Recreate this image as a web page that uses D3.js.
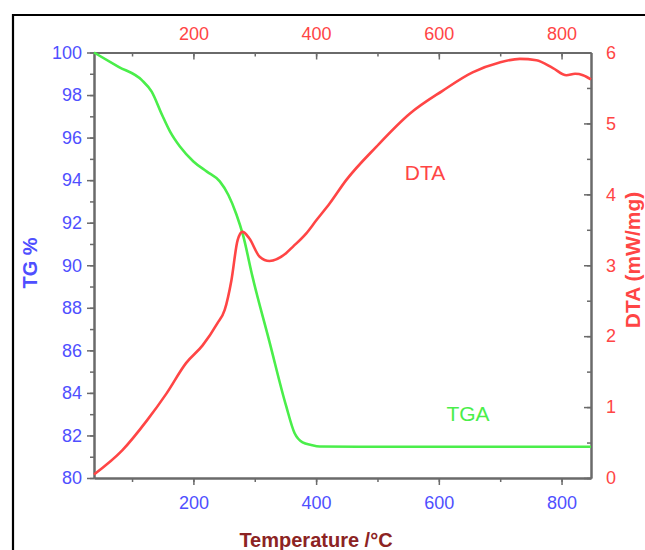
<!DOCTYPE html>
<html>
<head>
<meta charset="utf-8">
<script src="https://cdn.jsdelivr.net/npm/d3@7"></script>
<style>
  body { margin: 0; background: #fff; }
  svg { display: block; font-family: "Liberation Sans", Arial, sans-serif; }
</style>
</head>
<body>
<script>
// TGA curve, temperature (°C) and mass (%)
var tgaTemp = [38, 78, 116, 132, 149, 162, 178, 200, 222, 243, 257, 270, 281, 296, 324, 351, 365, 378, 392, 406, 471, 600, 848];
var tgaMass = [100, 99.33, 98.7, 98.16, 97.06, 96.28, 95.58, 94.88, 94.4, 93.94, 93.3, 92.4, 91.4, 89.5, 86.4, 83.4, 82.1, 81.67, 81.55, 81.48, 81.47, 81.47, 81.47];

// DTA curve, temperature (°C) and signal (mW/mg)
var dtaTemp = [38, 84, 125, 156, 188, 215, 239, 251, 262, 272, 280, 291, 308, 324, 351, 362, 384, 400, 422, 449, 498, 553, 606, 655, 699, 732, 759, 786, 808, 822, 835, 848];
var dtaVal = [0.05, 0.39, 0.82, 1.19, 1.62, 1.87, 2.18, 2.37, 2.79, 3.35, 3.47, 3.38, 3.12, 3.06, 3.17, 3.26, 3.45, 3.63, 3.87, 4.2, 4.67, 5.14, 5.46, 5.72, 5.86, 5.91, 5.89, 5.78, 5.68, 5.70, 5.68, 5.62];

// ticks
var tempTicks = [200, 400, 600, 800];
var tempMinor = [100, 200, 300, 400, 500, 600, 700, 800];
var tgTicks = [80, 82, 84, 86, 88, 90, 92, 94, 96, 98, 100];
var tgMinor = d3.range(80, 101, 1);
var dtaTicks = [0, 1, 2, 3, 4, 5, 6];
var dtaMinor = d3.range(0, 6.01, 0.5);

var W = 645, H = 550;
var plot = {left: 94, right: 591, top: 52.5, bottom: 478};

var blue = "#4f4fff", red = "#ff4545", green = "#4aee4a", axisGrey = "#6a6a6a";

var svg = d3.select("body").append("svg")
    .attr("width", W)
    .attr("height", H);

// outer frame
svg.append("path")
    .attr("d", "M13,551 L13,15 L646,15")
    .attr("fill", "none")
    .attr("stroke", "#000")
    .attr("stroke-width", 2.2);

var x = d3.scaleLinear().domain([38, 848]).range([plot.left, plot.right]);
var yTG = d3.scaleLinear().domain([80, 100]).range([plot.bottom, plot.top]);
var yDTA = d3.scaleLinear().domain([0, 6]).range([plot.bottom, plot.top]);

function styleAxis(g, color) {
    g.selectAll("path.domain").attr("stroke", axisGrey).attr("stroke-width", 2);
    g.selectAll(".tick line").attr("stroke", axisGrey).attr("stroke-width", 1.5);
    g.selectAll(".tick text").attr("fill", color).style("font-size", "18px");
}

// minor ticks (no labels)
var minorAxes = [
    [d3.axisBottom(x).tickValues(tempMinor).tickSize(4), "translate(0," + plot.bottom + ")"],
    [d3.axisTop(x).tickValues(tempMinor).tickSize(-4), "translate(0," + plot.top + ")"],
    [d3.axisLeft(yTG).tickValues(tgMinor).tickSize(4), "translate(" + plot.left + ",0)"],
    [d3.axisRight(yDTA).tickValues(dtaMinor).tickSize(-4), "translate(" + plot.right + ",0)"]
];
minorAxes.forEach(function(a) {
    var g = svg.append("g").attr("transform", a[1])
        .call(a[0].tickSizeOuter(0).tickFormat(""));
    styleAxis(g, "none");
});

// bottom axis
var gx = svg.append("g")
    .attr("transform", "translate(0," + plot.bottom + ")")
    .call(d3.axisBottom(x).tickValues(tempTicks).tickSize(7).tickSizeOuter(0).tickPadding(11));
styleAxis(gx, blue);

// top axis
var gxt = svg.append("g")
    .attr("transform", "translate(0," + plot.top + ")")
    .call(d3.axisTop(x).tickValues(tempTicks).tickSize(-7).tickSizeOuter(0).tickPadding(13));
styleAxis(gxt, red);

// left axis
var gy = svg.append("g")
    .attr("transform", "translate(" + plot.left + ",0)")
    .call(d3.axisLeft(yTG).tickValues(tgTicks).tickSize(7).tickSizeOuter(0).tickPadding(5));
styleAxis(gy, blue);

// right axis
var gyr = svg.append("g")
    .attr("transform", "translate(" + plot.right + ",0)")
    .call(d3.axisRight(yDTA).tickValues(dtaTicks).tickFormat(d3.format("d"))
        .tickSize(-7).tickSizeOuter(0).tickPadding(15));
styleAxis(gyr, red);

// curves
var tgaData = tgaTemp.map(function(t, i) { return {t: t, v: tgaMass[i]}; });
var dtaData = dtaTemp.map(function(t, i) { return {t: t, v: dtaVal[i]}; });

var tgaLine = d3.line()
    .curve(d3.curveMonotoneX)
    .x(function(d) { return x(d.t); })
    .y(function(d) { return yTG(d.v); });

var dtaLine = d3.line()
    .curve(d3.curveMonotoneX)
    .x(function(d) { return x(d.t); })
    .y(function(d) { return yDTA(d.v); });

svg.append("path")
    .datum(tgaData)
    .attr("fill", "none")
    .attr("stroke", green)
    .attr("stroke-width", 2.6)
    .attr("d", tgaLine);

svg.append("path")
    .datum(dtaData)
    .attr("fill", "none")
    .attr("stroke", red)
    .attr("stroke-width", 2.6)
    .attr("d", dtaLine);

// curve labels
svg.append("text")
    .attr("x", 425).attr("y", 180)
    .attr("text-anchor", "middle")
    .attr("fill", red)
    .style("font-size", "21px")
    .text("DTA");

svg.append("text")
    .attr("x", 468).attr("y", 421)
    .attr("text-anchor", "middle")
    .attr("fill", green)
    .style("font-size", "21px")
    .text("TGA");

// axis titles
svg.append("text")
    .attr("transform", "translate(37,263) rotate(-90)")
    .attr("text-anchor", "middle")
    .attr("fill", blue)
    .style("font-size", "20px")
    .style("font-weight", "bold")
    .text("TG %");

svg.append("text")
    .attr("transform", "translate(640,260) rotate(-90)")
    .attr("text-anchor", "middle")
    .attr("fill", red)
    .style("font-size", "21px")
    .style("font-weight", "bold")
    .text("DTA (mW/mg)");

svg.append("text")
    .attr("x", 316).attr("y", 547)
    .attr("text-anchor", "middle")
    .attr("fill", "#8c2323")
    .style("font-size", "20px")
    .style("font-weight", "bold")
    .text("Temperature /°C");
</script>
</body>
</html>
